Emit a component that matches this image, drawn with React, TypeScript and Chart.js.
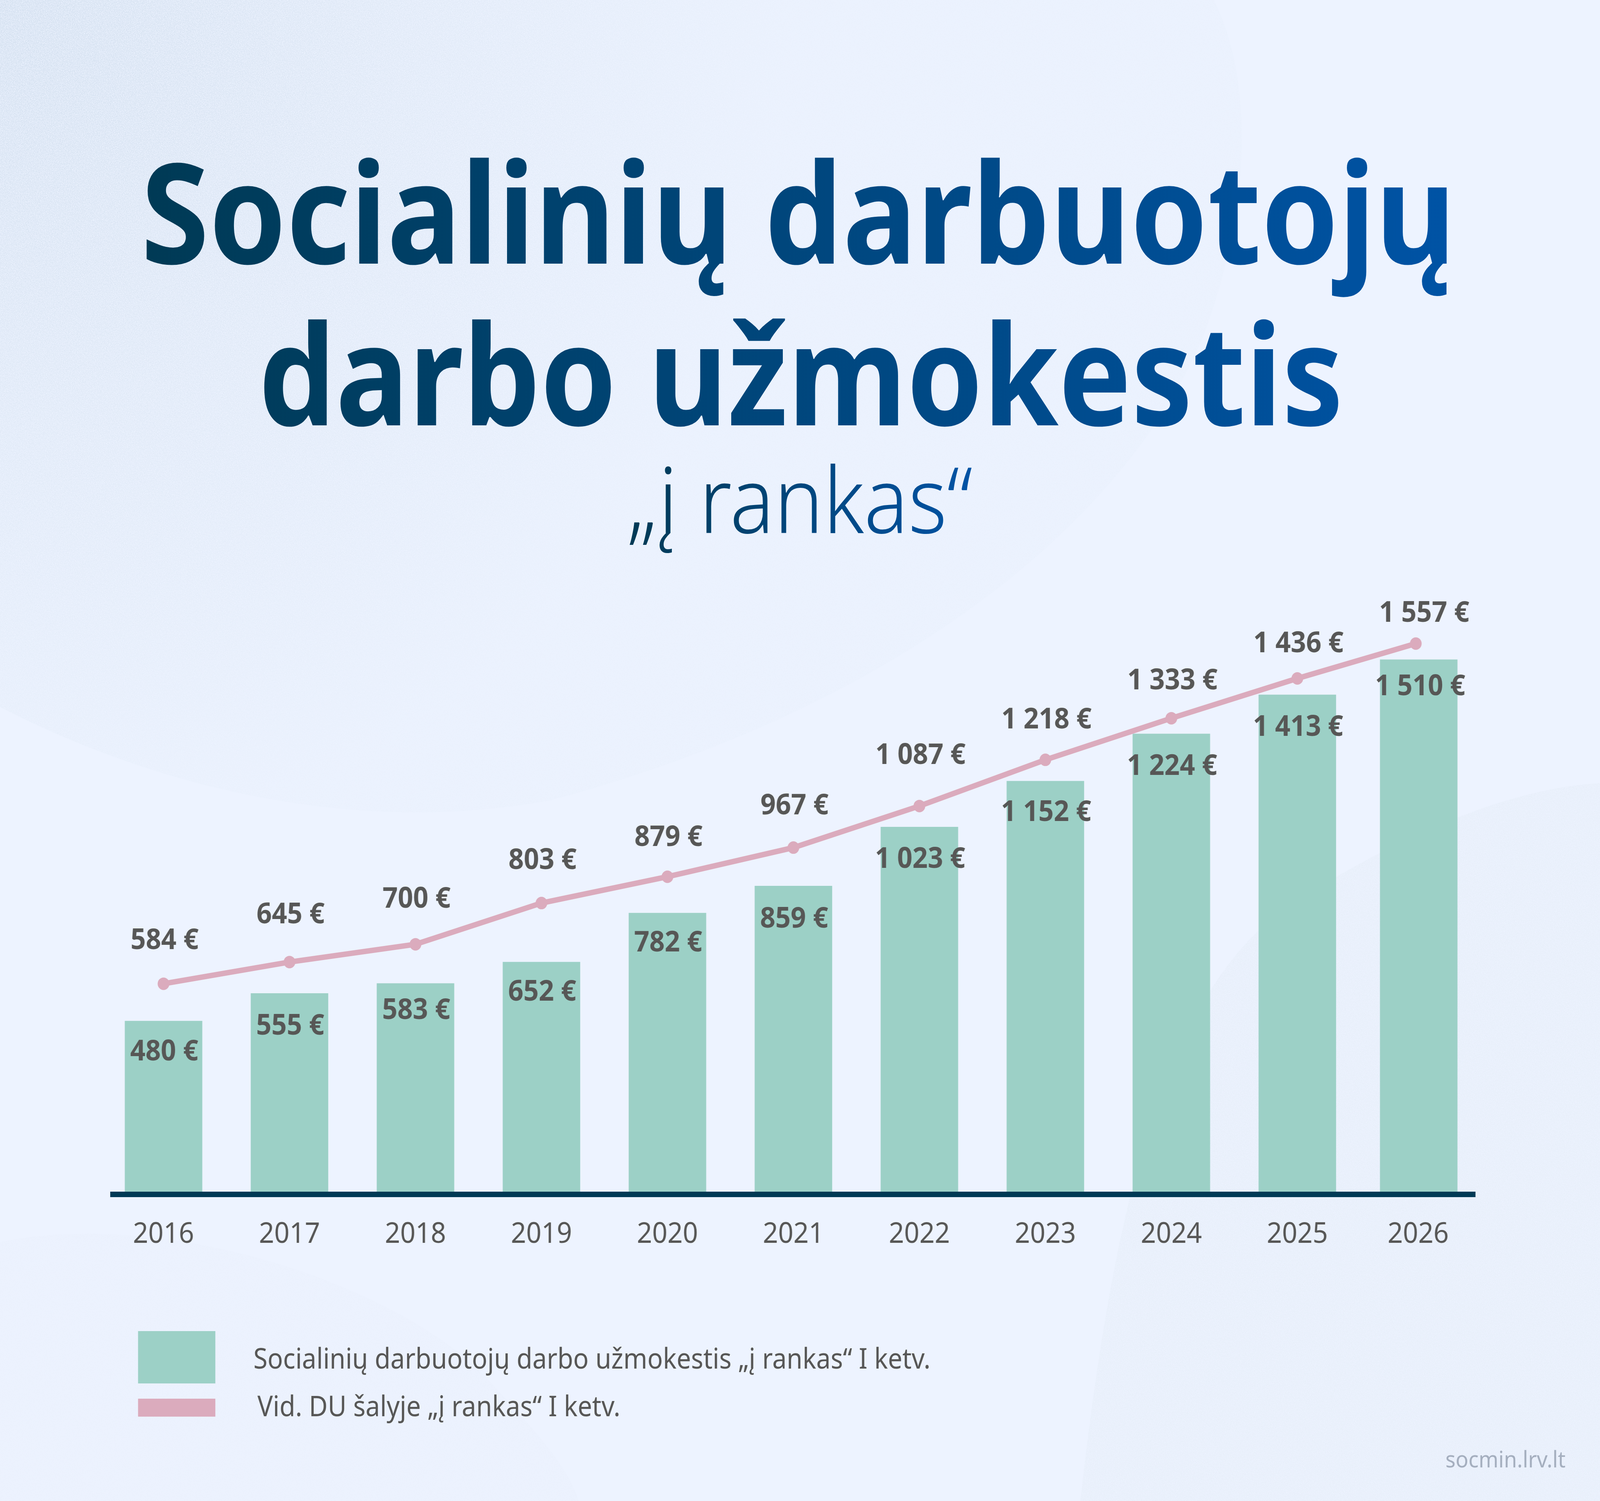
import { useEffect, useRef } from 'react'
import { Chart, registerables } from 'chart.js'
import type { Plugin } from 'chart.js'

Chart.register(...registerables)

const years = ['2016', '2017', '2018', '2019', '2020', '2021', '2022', '2023', '2024', '2025', '2026']

// figures printed on the chart
const socialWorkerPay = [480, 555, 583, 652, 782, 859, 1023, 1152, 1224, 1413, 1510]
const averagePay = [584, 645, 700, 803, 879, 967, 1087, 1218, 1333, 1436, 1557]

// the source does not draw its marks quite to scale, so these are read from the mark heights
const socialWorkerBars = [480, 558, 586, 646, 784, 860, 1026, 1155, 1288, 1398, 1497]
const averageLine = [585, 646, 696, 812, 886, 968, 1085, 1215, 1332, 1444, 1542]

// label placement, px from the mark
const barLabelDrop = [80, 85, 70, 78, 78, 86, 84, 81, 84, 84, 70]
const lineLabelLift = [109, 120, 114, 108, 100, 106, 128, 101, 95, 88, 77]

const WIDTH = 4369
const HEIGHT = 3843
const BASELINE_Y = 3051
const PX_PER_EURO = 0.91
const Y_MAX = 1700

const GREEN = '#9CD0C6'
const PINK = '#DBABBD'
const GREY = '#575756'
const NAVY = '#003A55'
const FONT = '"Noto Sans"'

const formatEuro = (v: number) => `${String(v).replace(/\B(?=(\d{3})+$)/g, ' ')} €`

// the 2026 column sits a little closer to 2025 than the regular step
const nudgeLastYear: Plugin<'bar'> = {
  id: 'nudgeLastYear',
  afterDatasetsUpdate(chart) {
    const last = years.length - 1
    chart.getDatasetMeta(0).data[last].x -= 12.5
    chart.getDatasetMeta(1).data[last].x -= 20.5
  },
}

const axisLine: Plugin<'bar'> = {
  id: 'axisLine',
  afterDatasetsDraw(chart) {
    const { ctx } = chart
    const y = chart.scales.y.getPixelForValue(0)
    ctx.save()
    ctx.fillStyle = NAVY
    ctx.fillRect(301, y, 3728, 14)
    ctx.restore()
  },
}

const valueLabels: Plugin<'bar'> = {
  id: 'valueLabels',
  afterDatasetsDraw(chart) {
    const { ctx } = chart
    const bars = chart.getDatasetMeta(0).data
    const points = chart.getDatasetMeta(1).data
    const last = years.length - 1
    ctx.save()
    ctx.font = `700 73px ${FONT}`
    ctx.fillStyle = GREY
    ctx.textAlign = 'center'
    ctx.textBaseline = 'middle'
    bars.forEach((bar, i) => {
      ctx.fillText(formatEuro(socialWorkerPay[i]), bar.x + (i === last ? 4 : 2), bar.y + barLabelDrop[i])
    })
    points.forEach((point, i) => {
      ctx.fillText(formatEuro(averagePay[i]), point.x + (i === last ? 23 : 3), point.y - lineLabelLift[i])
    })
    ctx.restore()
  },
}

function PayChart() {
  const canvasRef = useRef<HTMLCanvasElement>(null)

  useEffect(() => {
    if (!canvasRef.current) return
    const chart = new Chart(canvasRef.current, {
      type: 'bar',
      data: {
        labels: years,
        datasets: [
          {
            label: 'Socialinių darbuotojų darbo užmokestis „į rankas“ I ketv.',
            data: socialWorkerBars,
            backgroundColor: GREEN,
            barThickness: 211,
            order: 2,
          },
          {
            type: 'line',
            label: 'Vid. DU šalyje „į rankas“ I ketv.',
            data: averageLine,
            borderColor: PINK,
            backgroundColor: PINK,
            borderWidth: 14,
            pointRadius: 16,
            pointBorderWidth: 0,
            tension: 0,
            order: 1,
          },
        ] as any,
      },
      options: {
        responsive: false,
        animation: false,
        devicePixelRatio: 1,
        events: [],
        layout: {
          padding: { left: 274.5, right: 310.5, top: BASELINE_Y - Y_MAX * PX_PER_EURO, bottom: 0 },
        },
        plugins: {
          legend: { display: false },
          tooltip: { enabled: false },
        },
        scales: {
          x: {
            grid: { display: false, drawTicks: false },
            border: { display: false },
            afterFit: (scale: any) => {
              scale.height = HEIGHT - BASELINE_Y
            },
            afterUpdate: (scale: any) => {
              const proto = Object.getPrototypeOf(scale)
              scale.getPixelForTick = (i: number) =>
                proto.getPixelForTick.call(scale, i) + (i === years.length - 1 ? -14 : 0)
            },
            ticks: {
              padding: 66,
              color: GREY,
              font: { family: FONT, size: 73 },
              maxRotation: 0,
              autoSkip: false,
            },
          },
          y: { display: false, min: 0, max: Y_MAX },
        },
      },
      plugins: [nudgeLastYear, axisLine, valueLabels],
    })
    return () => chart.destroy()
  }, [])

  return (
    <canvas
      ref={canvasRef}
      width={WIDTH}
      height={HEIGHT}
      style={{ position: 'absolute', left: 0, top: 0, width: WIDTH, height: HEIGHT }}
    />
  )
}

function Backdrop() {
  return (
    <svg width={WIDTH} height={HEIGHT} style={{ position: 'absolute', left: 0, top: 0 }}>
      <defs>
        <filter id="grain" x="0" y="0" width="100%" height="100%" filterUnits="objectBoundingBox">
          <feTurbulence type="fractalNoise" baseFrequency="0.55" numOctaves="2" seed="4" result="noise" />
          <feColorMatrix in="noise" type="matrix" values="0 0 0 0 0  0 0 0 0 0  0 0 0 0 0  5 0 0 0 -1.7" result="speck" />
          <feComposite in="SourceGraphic" in2="speck" operator="in" />
        </filter>
        <radialGradient id="blobTop" gradientUnits="userSpaceOnUse" cx="0" cy="0" r="3600">
          <stop offset="0" stopColor="#D5E1F0" />
          <stop offset="0.3" stopColor="#E1EAF7" />
          <stop offset="0.6" stopColor="#EAF1FD" />
          <stop offset="1" stopColor="#EAF1FD" />
        </radialGradient>
        <linearGradient id="titleInk" gradientUnits="userSpaceOnUse" x1="396" y1="0" x2="3965" y2="0">
          <stop offset="0" stopColor="#003A55" />
          <stop offset="1" stopColor="#0053A5" />
        </linearGradient>
        <linearGradient id="subInk" gradientUnits="userSpaceOnUse" x1="1715" y1="0" x2="2656" y2="0">
          <stop offset="0" stopColor="#003A55" />
          <stop offset="1" stopColor="#0053A5" />
        </linearGradient>
      </defs>
      <path
        d="M0,0 L3315,0 C3420,200 3420,520 3290,850 C3100,1300 2500,1800 1500,2050 C900,2150 350,1980 0,1810 Z"
        fill="url(#blobTop)"
        filter="url(#grain)"
      />
      <path
        d="M4369,2005 C4100,2020 3800,2150 3500,2330 C3200,2550 3050,3000 2950,3843 L4369,3843 Z"
        fill="#E8EFFA"
        filter="url(#grain)"
      />
      <path
        d="M0,3180 C400,3100 1000,3250 1300,3500 C1450,3650 1550,3750 1580,3843 L0,3843 Z"
        fill="#EBF1FD"
        filter="url(#grain)"
      />
      <text x="385" y="675" fontFamily={FONT} fontWeight={700} fontSize={357} textLength={3590} lengthAdjust="spacingAndGlyphs" fill="url(#titleInk)">
        Socialinių darbuotojų
      </text>
      <text x="706" y="1089" fontFamily={FONT} fontWeight={700} fontSize={357} textLength={2962} lengthAdjust="spacingAndGlyphs" fill="url(#titleInk)">
        darbo užmokestis
      </text>
      <text x="1712" y="1365" fontFamily={FONT} fontWeight={300} fontSize={234} textLength={944} lengthAdjust="spacingAndGlyphs" fill="url(#subInk)">
        „į rankas“
      </text>
      <rect x={377} y={3408} width={211} height={134} fill={GREEN} />
      <rect x={377} y={3581} width={211} height={46} fill={PINK} />
      <text x="692" y="3504" fontFamily={FONT} fontSize={73} textLength={1849} lengthAdjust="spacingAndGlyphs" fill={GREY}>
        Socialinių darbuotojų darbo užmokestis „į rankas“ I ketv.
      </text>
      <text x="703" y="3626" fontFamily={FONT} fontSize={73} textLength={991} lengthAdjust="spacingAndGlyphs" fill={GREY}>
        Vid. DU šalyje „į rankas“ I ketv.
      </text>
      <text x="3947" y="3757" fontFamily={FONT} fontSize={58} textLength={328} lengthAdjust="spacingAndGlyphs" fill="#A5AFBF">
        socmin.lrv.lt
      </text>
    </svg>
  )
}

export default function App() {
  // the browser window can come out narrower than the artboard, so fit the artboard to it
  const fitX = Math.min(1, window.innerWidth / WIDTH)
  const fitY = Math.min(1, window.innerHeight / HEIGHT)

  return (
    <div style={{ width: WIDTH * fitX, height: HEIGHT * fitY, overflow: 'hidden' }}>
      <style>{'body { margin: 0; overflow: hidden; }'}</style>
      <div
        style={{
          position: 'relative',
          width: WIDTH,
          height: HEIGHT,
          background: '#EDF3FF',
          transform: `scale(${fitX}, ${fitY})`,
          transformOrigin: '0 0',
        }}
      >
        <Backdrop />
        <PayChart />
      </div>
    </div>
  )
}
